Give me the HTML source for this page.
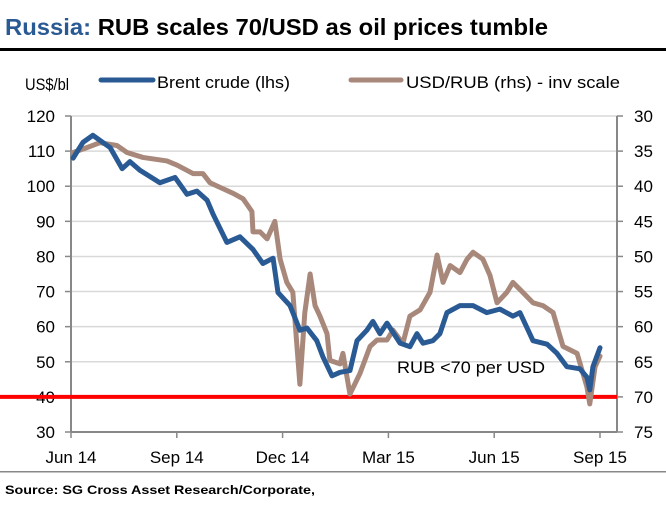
<!DOCTYPE html>
<html><head><meta charset="utf-8">
<style>
body{margin:0;background:#fff;width:666px;height:511px;overflow:hidden}
svg text{font-family:"Liberation Sans",Arial,sans-serif}
</style></head><body>
<svg width="666" height="511" viewBox="0 0 666 511">
<text x="5" y="35" font-size="23" font-weight="bold" textLength="543" lengthAdjust="spacingAndGlyphs"><tspan fill="#2a5a94">Russia:</tspan> <tspan fill="#000">RUB scales 70/USD as oil prices tumble</tspan></text>
<rect x="0" y="48" width="666" height="3" fill="#000"/>
<text x="25" y="90" font-size="17" textLength="44" lengthAdjust="spacingAndGlyphs">US$/bl</text>
<line x1="101" y1="80" x2="153" y2="80" stroke="#2a5a94" stroke-width="5" stroke-linecap="round"/>
<text x="157" y="88" font-size="17" textLength="133" lengthAdjust="spacingAndGlyphs">Brent crude (lhs)</text>
<line x1="351" y1="80" x2="401" y2="80" stroke="#a8887b" stroke-width="5" stroke-linecap="round"/>
<text x="406" y="88" font-size="17" textLength="214" lengthAdjust="spacingAndGlyphs">USD/RUB (rhs) - inv scale</text>
<g id="grid"></g>
<g id="axes"></g>
<g id="series"></g>
<text x="397" y="373" font-size="17" textLength="148" lengthAdjust="spacingAndGlyphs">RUB &lt;70 per USD</text>
<rect x="0" y="471" width="666" height="1.5" fill="#888"/>
<text x="5" y="494" font-size="12" font-weight="bold" textLength="310" lengthAdjust="spacingAndGlyphs">Source: SG Cross Asset Research/Corporate,</text>
</svg>
<script>
const xLabels=["Jun 14","Sep 14","Dec 14","Mar 15","Jun 15","Sep 15"];
const xLabelMonths=[0,3,6,9,12,15];
const leftTicks=[30,40,50,60,70,80,90,100,110,120];
const rightTicks=[30,35,40,45,50,55,60,65,70,75];
const brentMonths=[0.06,0.34,0.62,1.11,1.45,1.67,1.96,2.52,2.95,3.29,3.57,3.86,4.03,4.42,4.79,5.16,5.44,5.73,5.87,6.21,6.49,6.69,6.97,7.14,7.40,7.63,7.91,8.11,8.39,8.56,8.76,8.96,9.33,9.61,9.81,9.98,10.26,10.46,10.66,11.03,11.40,11.79,12.16,12.53,12.73,13.10,13.50,13.78,14.06,14.43,14.63,14.71,14.80,15.0];
const brentValues=[108,112.5,114.5,111,105,107,104.5,101,102.5,97.7,98.6,96,92,84,85.6,82,78,79.5,69.7,66,59,59.6,56,51.5,46,47,47.5,56,59,61.5,58,61,55.3,54.3,58,55.3,56,58,64,66,66,64,65,63,64,56,55,52.4,48.6,48,45.6,42,48.6,54];
const rubMonths=[0.06,0.45,0.82,1.30,1.59,2.04,2.72,3.01,3.46,3.74,3.94,4.59,4.88,5.13,5.16,5.36,5.56,5.78,5.93,6.12,6.29,6.49,6.63,6.78,6.92,7.06,7.26,7.34,7.63,7.71,7.91,8.19,8.48,8.68,8.96,9.13,9.41,9.61,9.90,10.18,10.38,10.55,10.75,11.03,11.23,11.40,11.68,11.88,12.08,12.36,12.53,12.73,13.10,13.38,13.67,13.95,14.35,14.63,14.71,14.86,15.0];
const rubValues=[35.2,34.5,33.8,34.2,35.2,35.9,36.4,37,38.2,38.2,39.5,41,41.8,43.6,46.5,46.5,47.5,45,50.4,53.7,55.1,68.2,58,52.5,57,58.5,61,64.8,65.3,63.8,69.6,66.7,62.8,61.9,61.9,60.5,62.4,58.5,57.6,55.1,49.8,53.7,51.3,52.3,50.4,49.4,50.4,52.7,56.6,55.1,53.7,54.7,56.6,57,58,62.8,63.8,68.6,71,65.7,64.2];
const rubThreshold=70;
const X0=71,X1=600,XR=617,YT=116,YB=432;
const xs=m=>X0+(X1-X0)*m/15;
const yL=v=>YB-(v-30)/90*(YB-YT);
const yR=v=>YT+(v-30)/45*(YB-YT);
const NS="http://www.w3.org/2000/svg";
function mk(tag,parent,attrs){const e=document.createElementNS(NS,tag);for(const k in attrs)e.setAttribute(k,attrs[k]);parent.appendChild(e);return e;}
const grid=document.getElementById('grid'),axes=document.getElementById('axes'),ser=document.getElementById('series');
leftTicks.forEach(v=>{
  if(v>30){const g=mk('line',grid,{x1:X0,x2:XR,y1:yL(v),y2:yL(v),stroke:'#d9d9d9','stroke-width':1.5});
  
  }
  const t=mk('line',axes,{x1:X0-6,x2:X0,y1:yL(v),y2:yL(v),stroke:'#888','stroke-width':1.5});
  
  
  const l=mk('text',axes,{x:55,y:yL(v)+6,'font-size':17,'text-anchor':'end'});l.textContent=v;
  
  
});
rightTicks.forEach(v=>{
  const t=mk('line',axes,{x1:XR,x2:XR+6,y1:yR(v),y2:yR(v),stroke:'#888','stroke-width':1.5});
  
  
  const l=mk('text',axes,{x:634,y:yR(v)+6,'font-size':17});l.textContent=v;
  
  
});
let a=mk('line',axes,{x1:X0,x2:X0,y1:YT,y2:YB,stroke:'#888','stroke-width':2});


a=mk('line',axes,{x1:XR,x2:XR,y1:YT,y2:YB,stroke:'#888','stroke-width':2});


a=mk('line',axes,{x1:X0,x2:XR,y1:YB,y2:YB,stroke:'#888','stroke-width':2});


xLabels.forEach((s,i)=>{
  const x=xs(xLabelMonths[i]);
  const t=mk('line',axes,{x1:x,x2:x,y1:YB,y2:YB+6,stroke:'#888','stroke-width':1.5});
  
  
  const l=mk('text',axes,{x:x,y:463,'font-size':17,'text-anchor':'middle'});l.textContent=s;
  
  
});
const ref=mk('line',ser,{x1:0,x2:XR,y1:yR(rubThreshold),y2:yR(rubThreshold),stroke:'#ff0000','stroke-width':4});


const rp=mk('polyline',ser,{points:rubMonths.map((m,i)=>xs(m)+','+yR(rubValues[i])).join(' '),fill:'none',stroke:'#a8887b','stroke-width':5,'stroke-linejoin':'round','stroke-linecap':'round'});


const bp=mk('polyline',ser,{points:brentMonths.map((m,i)=>xs(m)+','+yL(brentValues[i])).join(' '),fill:'none',stroke:'#2a5a94','stroke-width':5,'stroke-linejoin':'round','stroke-linecap':'round'});


ser.insertBefore(rp,bp);
</script>
</body></html>
